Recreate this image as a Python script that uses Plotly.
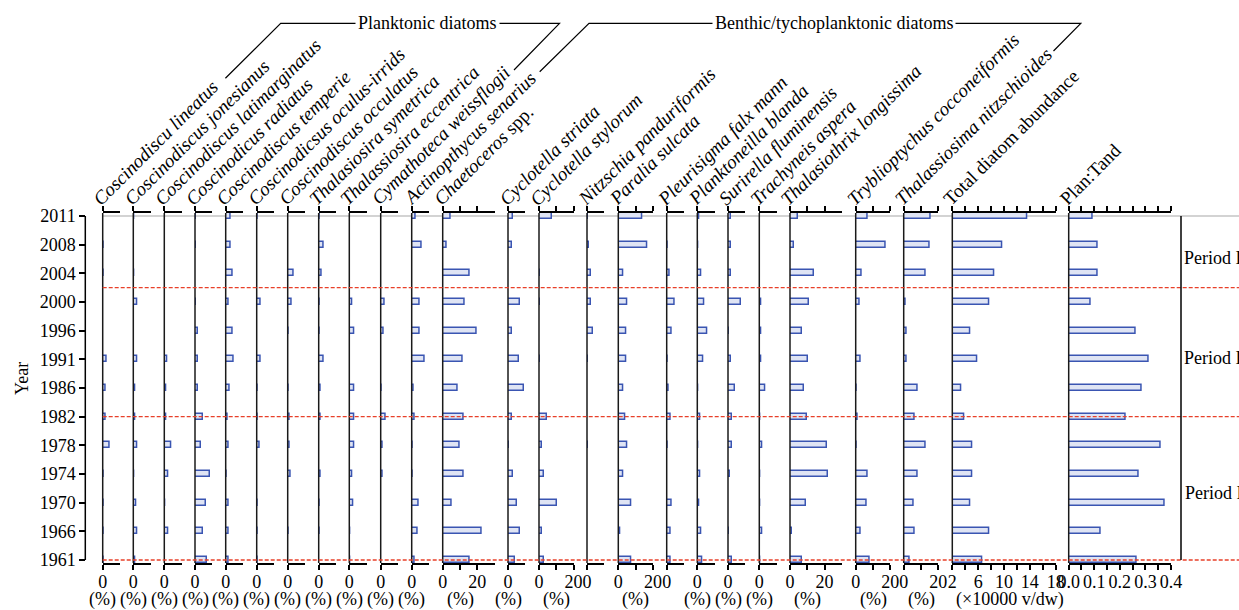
import plotly.graph_objects as go

W, H = 1239, 610
PLOT_TOP, PLOT_BOTTOM = 213, 563

# ---------------- data (rows listed top to bottom) ----------------
years = ['2011', '2008', '2004', '2000', '1996', '1991', '1986', '1982',
         '1978', '1974', '1970', '1966', '1961']

names = [
    'Coscinodiscu lineatus', 'Coscinodiscus jonesianus', 'Coscinodiscus latimarginatus',
    'Coscinodicus radiatus', 'Coscinodiscus temperie', 'Coscinodicsus oculus-irrids',
    'Coscinodiscus occulatus', 'Thalasiosira symetrica', 'Thalassiosira eccentrica',
    'Cymathoteca weissflogii', 'Actinopthycus senarius', 'Chaetoceros spp.',
    'Cyclotella striata', 'Cyclotella stylorum', 'Nitzschia panduriformis',
    'Paralia sulcata', 'Pleurisigma falx mann', 'Planktoneilla blanda',
    'Surirella fluminensis', 'Trachyneis aspera', 'Thalasiothrix longissima',
    'Tryblioptychus cocconeiformis', 'Thalassiosima nitzschioides',
    'Total diatom abundance', 'Plan:Tand',
]

c_lineatus        = [0, 0.5, 0.5, 0, 0, 2.3, 1.5, 1.9, 3.9, 0.8, 0.3, 0.8, 0.5]
c_jonesianus      = [0.3, 0.2, 0.6, 2.5, 0, 2.1, 1.2, 1.2, 2.3, 0.5, 1.9, 2.3, 1.2]
c_latimarginatus  = [0, 0, 0, 0, 0, 1.9, 1.3, 1.3, 3.9, 2.3, 0.8, 2.3, 0]
c_radiatus        = [0.3, 0.3, 0, 0.8, 1.9, 1.9, 1.9, 4.4, 3.3, 8.7, 6.2, 4.4, 7.1]
c_temperie        = [2.9, 2.9, 4.0, 1.7, 4.0, 4.6, 2.1, 1.3, 1.5, 0.3, 1.5, 1.5, 1.5]
c_oculus_irrids   = [0.3, 0, 0, 2.1, 0, 2.1, 0.3, 0.4, 1.9, 0, 0.8, 0.8, 0.3]
c_occulatus       = [0, 0, 3.3, 2.1, 0.8, 0, 0.3, 1.0, 1.0, 1.9, 0, 0.3, 0]
t_symetrica       = [0.5, 3.1, 1.9, 0.3, 0.3, 3.1, 1.2, 1.2, 0, 1.2, 0.8, 0.3, 0]
t_eccentrica      = [0, 0, 0, 1.7, 3.1, 0, 3.1, 3.1, 3.1, 1.5, 2.3, 0.8, 0.8]
cymathoteca       = [0, 0, 0, 2.3, 1.9, 0, 0.8, 2.9, 1.2, 1.2, 0, 0, 0]
actinopthycus     = [2.5, 5.8, 0, 4.4, 4.4, 7.5, 1.3, 1.9, 0.3, 0.8, 3.9, 3.3, 1.7]
chaetoceros       = [4.8, 2.2, 15.4, 12.9, 19.7, 11.3, 8.5, 12.0, 9.6, 12.2, 5.4, 22.7, 15.8]
cyc_striata       = [2.9, 2.3, 0, 7.1, 2.3, 6.6, 9.2, 2.3, 0.3, 2.9, 5.4, 6.9, 3.9]
cyc_stylorum      = [7.7, 0, 0.8, 0.3, 0, 0.8, 0, 4.8, 1.9, 3.1, 10.2, 1.7, 2.9]
nitzschia         = [0.8, 1.3, 2.1, 2.1, 3.5, 0.3, 0, 0, 0.8, 0, 0, 0, 0]
paralia           = [14.1, 17.0, 2.9, 5.4, 4.8, 4.8, 2.7, 4.2, 5.2, 2.7, 7.5, 1.2, 7.3]
pleurisigma       = [0, 0.8, 1.5, 4.8, 2.7, 0.5, 1.2, 2.5, 0.3, 0, 2.7, 2.1, 2.3]
planktoneilla     = [1.2, 0.3, 2.5, 3.9, 5.8, 3.3, 0.8, 1.7, 0.3, 1.7, 1.2, 2.3, 2.7]
surirella         = [1.9, 1.9, 1.5, 7.7, 0.8, 1.5, 3.9, 2.5, 2.5, 1.3, 0, 0.3, 2.5]
trachyneis        = [0, 0, 0, 1.3, 1.3, 1.2, 3.3, 0.8, 1.7, 0.3, 0.6, 1.7, 0.6]
thalasiothrix     = [4.8, 2.3, 14.1, 11.2, 7.1, 10.2, 8.1, 10.0, 21.6, 22.2, 9.1, 1.2, 6.9]
tryblioptychus    = [6.9, 17.1, 3.3, 2.3, 0, 2.7, 0.6, 1.0, 0.6, 7.1, 6.6, 2.7, 8.1]
thalassiosima     = [15.4, 15.0, 12.9, 1.0, 1.5, 1.7, 8.1, 6.2, 12.5, 8.1, 5.6, 6.2, 3.3]
total_abundance   = [13.6, 9.8, 8.5, 7.7, 4.85, 5.8, 3.4, 3.9, 5.1, 5.1, 4.8, 7.7, 6.7]
plan_tand         = [0.092, 0.113, 0.113, 0.086, 0.262, 0.313, 0.287, 0.221, 0.358,
                     0.274, 0.377, 0.125, 0.264]

series = [c_lineatus, c_jonesianus, c_latimarginatus, c_radiatus, c_temperie,
          c_oculus_irrids, c_occulatus, t_symetrica, t_eccentrica, cymathoteca,
          actinopthycus, chaetoceros, cyc_striata, cyc_stylorum, nitzschia, paralia,
          pleurisigma, planktoneilla, surirella, trachyneis, thalasiothrix,
          tryblioptychus, thalassiosima, total_abundance, plan_tand]

group_labels = ['Planktonic diatoms', 'Benthic/tychoplanktonic diatoms']
period_labels = ['Period III', 'Period II', 'Period I']
boundary_rows = [9.5, 5, 0]   # category positions: 2002, 1982, 1961

# ---------------- layout configuration ----------------
left_px = [102.7, 133.3, 164.3, 195.0, 225.7, 256.7, 287.7, 318.7, 349.3, 380.7,
           411.7, 442.7, 508.0, 539.0, 587.0, 618.3, 666.7, 697.3, 728.0, 759.3,
           790.0, 855.7, 903.7, 952.3, 1068.7]
SMALL = dict(rng=(0, 10), major=[0], minor=[], scale=1.73)
MID = dict(rng=(0, 20), major=[0, 20], minor=[10], scale=1.73)
WIDE = dict(rng=(0, 30), major=[0, 20], minor=[10], scale=1.73)
TOTAL = dict(rng=(2, 18), major=[2, 6, 10, 14, 18], minor=[4, 8, 12, 16], scale=103.4 / 16)
PLAN = dict(rng=(0, 0.4), major=[0, 0.1, 0.2, 0.3, 0.4], minor=[0.05, 0.15, 0.25, 0.35],
            scale=102.3 / 0.4, text=['0.0', '0.1', '0.2', '0.3', '0.4'])
specs = [SMALL] * 11 + [WIDE, SMALL, MID, SMALL, MID, SMALL, SMALL, SMALL, SMALL,
                        WIDE, MID, MID, TOTAL, PLAN]
unit_titles = ['(%)'] * 14 + [None, '(%)', None, '(%)', '(%)', '(%)', '(%)', '(%)', '(%)',
                              '(×10000 v/dw)', None]
unit_title_x = [0] * 11 + [10, 0, 10, None, 10, None, 0, 0, 0, 10, 10, 10, 11, None]
period_y_px = [258, 358, 493]
period_x_px = [1182, 1182, 1183]

FONT = 'Liberation Serif'
BAR_LINE = '#3a55b2'
BAR_FILL = '#dfe4f4'
LABEL_ANGLE = -45


def px_x(px):
    return px / W


def px_y(py):
    return (PLOT_BOTTOM - py) / (PLOT_BOTTOM - PLOT_TOP)


def f(size=18):
    return dict(family=FONT, size=size, color='black')


fig = go.Figure()
layout = dict(
    template='none',
    width=W, height=H,
    margin=dict(l=0, r=0, t=PLOT_TOP, b=H - PLOT_BOTTOM, pad=0, autoexpand=False),
    paper_bgcolor='white', plot_bgcolor='white',
    showlegend=False,
    font=f(),
    bargap=0,
)
shapes, annotations = [], []

for i, (vals, spec) in enumerate(zip(series, specs)):
    n = i + 1
    xname = 'x' if n == 1 else f'x{n}'
    axkey = 'xaxis' if n == 1 else f'xaxis{n}'
    r0, r1 = spec['rng']
    x0 = left_px[i]
    x1 = x0 + (r1 - r0) * spec['scale']
    fig.add_trace(go.Bar(
        x=vals, y=years, orientation='h', xaxis=xname, yaxis='y',
        width=0.2,
        marker=dict(color=BAR_FILL, line=dict(color=BAR_LINE, width=1.5)),
        hoverinfo='x+y',
    ))
    layout[axkey] = dict(
        domain=[px_x(x0), px_x(x1)], range=[r0, r1], anchor='y', automargin=False,
        showgrid=False, zeroline=False, showline=True, linecolor='black', linewidth=1.5,
        mirror='ticks', ticks='outside', ticklen=5, tickwidth=1.5, tickcolor='black',
        tickmode='array', tickvals=spec['major'],
        ticktext=spec.get('text', [f'{v:g}' for v in spec['major']]),
        tickfont=f(), ticklabelstandoff=-3,
        minor=dict(tickmode='array', tickvals=spec['minor'], ticks='outside', ticklen=5,
                   tickwidth=1.5, tickcolor='black', showgrid=False),
        fixedrange=True,
    )
    # vertical baseline of each panel
    shapes.append(dict(type='line', xref=f'{xname} domain', x0=0, x1=0,
                       yref='paper', y0=0, y1=1, line=dict(color='#1a1a1a', width=1.5)))
    # species label
    nm = names[i]
    if nm.endswith(' spp.'):
        txt = f'<i>{nm[:-5]}</i> spp.'
    elif n >= 24:
        txt = nm
    else:
        txt = f'<i>{nm}</i>'
    annotations.append(dict(text=txt, x=px_x(x0 - 16), y=px_y(212), xref='paper', yref='paper',
                            xanchor='left', yanchor='bottom', textangle=LABEL_ANGLE,
                            showarrow=False, font=f(19)))
    # unit title
    if unit_titles[i]:
        annotations.append(dict(text=unit_titles[i], x=unit_title_x[i], xref=xname,
                                y=px_y(599.5), yref='paper', xanchor='center', yanchor='middle',
                                showarrow=False, font=f()))

layout['yaxis'] = dict(
    type='category', categoryorder='array', categoryarray=years[::-1],
    range=[-0.105, 12.105], anchor='free', position=px_x(85.3), automargin=False,
    showgrid=False, zeroline=False, showline=False,
    ticks='outside', ticklen=6, tickwidth=1.5, tickcolor='black',
    tickfont=f(), fixedrange=True,
)

# y axis line (2011 .. 1961)
shapes.append(dict(type='line', xref='paper', x0=px_x(85.3), x1=px_x(85.3), yref='y',
                   y0=0, y1=12, line=dict(color='black', width=1.5)))
# top reference line at 2011
shapes.append(dict(type='line', xref='paper', x0=px_x(102.7), x1=1, yref='y', y0=12, y1=12,
                   line=dict(color='#c4c4c4', width=1.5), layer='below'))
# period boundaries
for b in boundary_rows:
    shapes.append(dict(type='line', xref='paper', x0=px_x(102.7), x1=1, yref='y', y0=b, y1=b,
                       line=dict(color='#e8402a', width=1.3, dash='4px,2px')))
# right frame line
shapes.append(dict(type='line', xref='paper', x0=px_x(1181), x1=px_x(1181), yref='y',
                   y0=0, y1=12, line=dict(color='black', width=1.5)))

# group brackets
brackets = [
    ([(225.4, 78.3), (280.7, 23.3), (559.5, 23.3), (514.0, 70.0)], 427.5),
    ([(539.7, 71.7), (589.0, 23.3), (1080.8, 23.3), (1053.5, 51.0)], 834.0),
]
for (pts, cx), lab in zip(brackets, group_labels):
    path = 'M ' + ' L '.join(f'{px_x(px)} {px_y(py)}' for px, py in pts)
    shapes.append(dict(type='path', xref='paper', yref='paper', path=path,
                       line=dict(color='black', width=1.2)))
    annotations.append(dict(text=lab, x=px_x(cx), y=px_y(23.3), xref='paper', yref='paper',
                            xanchor='center', yanchor='middle', showarrow=False,
                            bgcolor='white', borderpad=2, font=f()))

# period labels
for lab, xp, yp in zip(period_labels, period_x_px, period_y_px):
    annotations.append(dict(text=lab, x=px_x(xp), y=px_y(yp), xref='paper', yref='paper',
                            xanchor='left', yanchor='middle', showarrow=False, font=f()))

# y title
annotations.append(dict(text='Year', x=px_x(22), y=px_y(379), xref='paper', yref='paper',
                        textangle=-90, xanchor='center', yanchor='middle', showarrow=False,
                        font=f()))

layout['shapes'] = shapes
layout['annotations'] = annotations
fig.update_layout(**layout)

fig.write_html("out.html", config={'displayModeBar': False},
               post_script="document.body.style.margin='0';document.body.style.overflow='hidden';")
